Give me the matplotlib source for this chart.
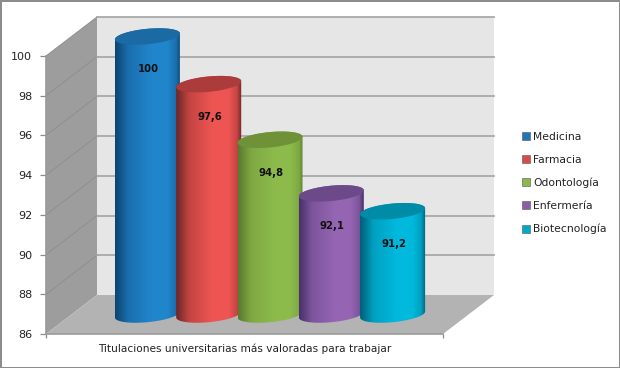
import numpy as np
import matplotlib
matplotlib.use('Agg')
import matplotlib.pyplot as plt
from matplotlib.colors import LinearSegmentedColormap
from matplotlib.patches import Patch, Polygon

categories = ['Medicina', 'Farmacia', 'Odontología', 'Enfermería', 'Biotecnología']
values = [100, 97.6, 94.8, 92.1, 91.2]
value_labels = ['100', '97,6', '94,8', '92,1', '91,2']
y_ticks = [86, 88, 90, 92, 94, 96, 98, 100]
x_title = 'Titulaciones universitarias más valoradas para trabajar'

# dark edge, mid, light, top face
bar_colors = [
    ['#0d4470', '#1a6fae', '#2185cb', '#1b6aa3'],
    ['#6e2626', '#c44444', '#ee5552', '#ab3c3b'],
    ['#5a7a2e', '#7fa843', '#8cbb4c', '#6f9239'],
    ['#47306a', '#7d559c', '#9565b3', '#6c4a8a'],
    ['#005f78', '#00a0c0', '#00b9dc', '#008ca6'],
]
legend_colors = ['#1f77b8', '#d94a48', '#8ab84b', '#8a5fa8', '#00a9c9']

# depth of the 3d box, in axis units
depth_x = 51 / 397
depth_y = 39 / (278 / 14)
bar_step = 61.3 / 397
bar_half = 32.5 / 397
ell_h = 7.7 / (278 / 14)
ell_tilt = 3 / (278 / 14)

y0, y1 = y_ticks[0], y_ticks[-1]

fig = plt.figure(figsize=(6.2, 3.68), dpi=100, facecolor='white', edgecolor='#8c8c8c', linewidth=2)
ax = fig.add_axes([46 / 620, 34 / 368, 397 / 620, 278 / 368])
ax.patch.set_visible(False)


def add_poly(points, color, z):
    poly = Polygon(points, closed=True, facecolor=color, edgecolor='none', zorder=z, clip_on=False)
    ax.add_patch(poly)
    return poly


# box walls and floor
add_poly([(0, y0), (depth_x, y0 + depth_y), (depth_x, y1 + depth_y), (0, y1)], '#9d9d9d', 1)
add_poly([(depth_x, y0 + depth_y), (1 + depth_x, y0 + depth_y), (1 + depth_x, y1 + depth_y), (depth_x, y1 + depth_y)], '#e6e6e6', 1)
add_poly([(0, y0), (1, y0), (1 + depth_x, y0 + depth_y), (depth_x, y0 + depth_y)], '#b3b3b3', 1)

for t in y_ticks:
    if t > y0:
        ax.plot([0, depth_x], [t, t + depth_y], color='#8f8f8f', lw=0.7, zorder=2, clip_on=False)
        ax.plot([depth_x, 1 + depth_x], [t + depth_y, t + depth_y], color='#a3a3a3', lw=1.2, zorder=2, clip_on=False)


def ellipse_xy(cx, cy, start, stop, n=60):
    t = np.linspace(start, stop, n)
    return np.column_stack([cx + bar_half * np.cos(t), cy + ell_h * np.sin(t) + ell_tilt * np.cos(t)])


for i, (val, label, cols) in enumerate(zip(values, value_labels, bar_colors)):
    cx = 0.5 + depth_x / 2 + (i - 2) * bar_step
    top = val + depth_y / 2
    bottom = y0 + depth_y / 2
    z = 3 + i * 3

    # body: top rim going left, then the lower half of the base
    outline = np.vstack([ellipse_xy(cx, top, 0, np.pi), ellipse_xy(cx, bottom, np.pi, 2 * np.pi)])
    body = Polygon(outline, closed=True, facecolor='none', edgecolor='none', zorder=z, clip_on=False)
    ax.add_patch(body)

    cmap = LinearSegmentedColormap.from_list('bar', [
        (0, cols[0]), (0.2, cols[1]), (0.55, cols[2]), (0.8, cols[2]), (0.93, cols[1]), (1, cols[0])])
    im = ax.imshow(np.linspace(0, 1, 128).reshape(1, -1), cmap=cmap, aspect='auto', interpolation='bilinear',
                   extent=(cx - bar_half, cx + bar_half, y0, top + 1), zorder=z)
    # the image runs above the axes box, so clip to the figure and the cylinder only
    im.set_clip_box(fig.bbox)
    im.set_clip_path(body)

    add_poly(ellipse_xy(cx, top, 0, 2 * np.pi), cols[3], z + 1)
    ax.text(cx + 0.003, top - 1.65, label, ha='center', va='center', fontsize=7.3, fontweight='bold',
            color='#111111', zorder=20)

ax.set_xlim(0, 1)
ax.set_ylim(y0, y1)
ax.set_yticks(y_ticks)
ax.set_xticks([0, 1])
ax.set_xticklabels([])
ax.tick_params(axis='y', length=4, width=0.9, color='#8a8a8a', labelsize=8, labelcolor='#222222', pad=6)
ax.tick_params(axis='x', length=3, width=0.9, color='#8a8a8a')
for side in ['top', 'right']:
    ax.spines[side].set_visible(False)
for side in ['left', 'bottom']:
    ax.spines[side].set_color('#9a9a9a')
    ax.spines[side].set_linewidth(1.2)
ax.spines['left'].set_zorder(2)
ax.spines['bottom'].set_zorder(2)
ax.set_xlabel(x_title, fontsize=7.6, color='#222222', labelpad=0.2)

handles = [Patch(facecolor=c, edgecolor='#555555', linewidth=0.4) for c in legend_colors]
fig.legend(handles, categories, loc='center left', bbox_to_anchor=(514 / 620, 1 - 183 / 368), frameon=False,
           fontsize=7.75, labelcolor='#222222', handlelength=0.75, handleheight=0.75, handletextpad=0.35,
           labelspacing=1.2, borderpad=0.2)

fig.savefig('out.png', dpi=100)
